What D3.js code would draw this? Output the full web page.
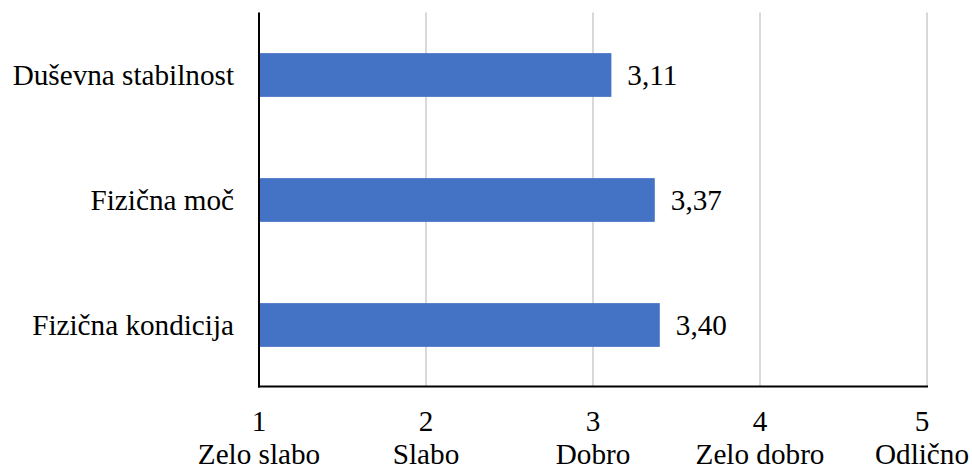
<!DOCTYPE html>
<html>
<head>
<meta charset="utf-8">
<script src="https://cdn.jsdelivr.net/npm/d3@7"></script>
<style>
  html, body { margin: 0; padding: 0; background: #fff; }
</style>
</head>
<body>
<svg id="chart" width="972" height="470"></svg>
<script>
// Ocene po področjih (lestvica 1–5)
const categories = ["Duševna stabilnost", "Fizična moč", "Fizična kondicija"];
const values = [3.11, 3.37, 3.40];
const tickValues = [1, 2, 3, 4, 5];
const tickLabels = ["Zelo slabo", "Slabo", "Dobro", "Zelo dobro", "Odlično"];

const width = 972;
const svg = d3.select("#chart")
  .attr("font-family", "'Liberation Serif', 'DejaVu Serif', serif");
const fontSize = 29.2;
const plotLeft = 259, plotRight = 927, plotTop = 12.5, plotBottom = 387.5;

const x = d3.scaleLinear().domain([1, 5]).range([plotLeft, plotRight]);
const y = d3.scaleBand().domain(categories).range([plotTop, plotBottom])
  .paddingInner(0.65).paddingOuter(0.325);

const fmt = v => d3.format(".2f")(v).replace(".", ",");

// vertical gridlines
svg.append("g").selectAll("line")
  .data(tickValues.slice(1))
  .join("line")
  .attr("x1", d => x(d)).attr("x2", d => x(d))
  .attr("y1", plotTop).attr("y2", plotBottom - 1)
  .attr("stroke", "#d9d9d9").attr("stroke-width", 2);

// bars
svg.append("g").selectAll("rect")
  .data(categories)
  .join("rect")
  .attr("x", x(1))
  .attr("y", d => y(d))
  .attr("width", (d, i) => x(values[i]) - x(1))
  .attr("height", y.bandwidth())
  .attr("fill", "#4472c4");

// value labels
svg.append("g").selectAll("text")
  .data(categories)
  .join("text")
  .attr("x", (d, i) => x(values[i]) + 16)
  .attr("y", d => y(d) + y.bandwidth() / 2)
  .attr("dy", "0.34em")
  .attr("font-size", fontSize)
  .attr("fill", "#000")
  .text((d, i) => fmt(values[i]));

// category labels
svg.append("g").selectAll("text")
  .data(categories)
  .join("text")
  .attr("x", plotLeft - 25)
  .attr("y", d => y(d) + y.bandwidth() / 2)
  .attr("dy", "0.34em")
  .attr("text-anchor", "end")
  .attr("font-size", fontSize)
  .attr("fill", "#000")
  .text(d => d);

// axis lines
svg.append("line")
  .attr("x1", plotLeft).attr("x2", plotLeft)
  .attr("y1", plotTop).attr("y2", plotBottom)
  .attr("stroke", "#000").attr("stroke-width", 2);
svg.append("line")
  .attr("x1", plotLeft - 1).attr("x2", plotRight + 1)
  .attr("y1", 386.5).attr("y2", 386.5)
  .attr("stroke", "#000").attr("stroke-width", 2);

// x tick numbers and descriptive labels (two-line blocks, kept inside the canvas)
const xt = svg.append("g").selectAll("g")
  .data(tickValues)
  .join("g");
xt.append("text")
  .attr("y", 431)
  .attr("text-anchor", "middle")
  .attr("font-size", fontSize)
  .attr("fill", "#000")
  .text(d => d);
xt.append("text")
  .attr("y", 464)
  .attr("text-anchor", "middle")
  .attr("font-size", fontSize)
  .attr("fill", "#000")
  .text((d, i) => tickLabels[i]);
xt.attr("transform", function(d) {
  const w = d3.max(Array.from(this.querySelectorAll("text")), t => t.getComputedTextLength());
  const cx = Math.min(x(d), width - 3 - w / 2);
  return `translate(${cx},0)`;
});
</script>
</body>
</html>
